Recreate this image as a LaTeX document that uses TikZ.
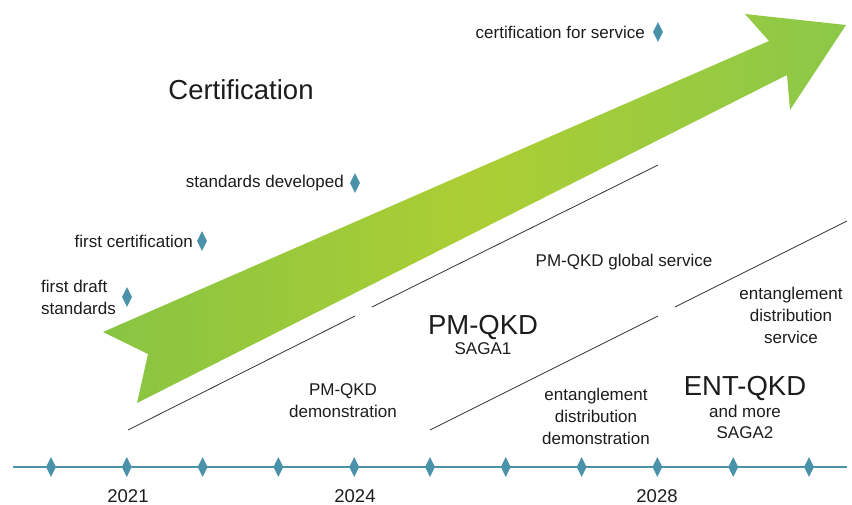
\documentclass[tikz,border=0pt]{standalone}
\usepackage{fontspec}
\setmainfont{Liberation Sans}
\usetikzlibrary{shapes.geometric}
\definecolor{tealm}{RGB}{74,146,170}
\definecolor{gA}{RGB}{136,196,66}
\definecolor{gB}{RGB}{172,206,52}
\definecolor{gC}{RGB}{140,200,72}
\definecolor{txt}{RGB}{28,28,28}
\begin{document}
\begin{tikzpicture}[x=1pt,y=-1pt,
  msdia/.style={shape=diamond, fill=tealm, draw=none, inner sep=0pt, minimum width=10pt, minimum height=20pt},
  lbl/.style={text=txt, inner sep=0pt, font=\fontsize{17}{21.6}\selectfont, align=center},
  big/.style={text=txt, inner sep=0pt, font=\fontsize{27.5}{30}\selectfont},
  yr/.style={text=txt, inner sep=0pt, font=\fontsize{18.5}{20}\selectfont},
  phase/.style={draw=black!80, line width=0.8pt}]
\useasboundingbox (0,0) rectangle (852,505);

% big green arrow
\shade[left color=gA, right color=gC, middle color=gB]
  (103,332) -- (769,41) -- (745,14) -- (846,25) -- (790,110) -- (787,75)
  -- (137,403) -- (148,354) -- cycle;

% timeline
\coordinate (tl0) at (13,467);
\coordinate (tl1) at (847,467);
\draw[tealm, line width=1.5pt] (tl0) -- (tl1);
\foreach \i in {0,...,10} {
  \node[msdia] (t\i) at ({51+75.8*\i},467) {};
}
\node[yr] (y2021) at (128,496) {2021};
\node[yr] (y2024) at (355,496) {2024};
\node[yr] (y2028) at (657,496) {2028};

% phase separator lines
\coordinate (a1) at (128,430); \coordinate (a2) at (355,316);
\coordinate (b1) at (372,307); \coordinate (b2) at (658,165);
\coordinate (c1) at (430,430); \coordinate (c2) at (658,316);
\coordinate (e1) at (675,307); \coordinate (e2) at (847,221);
\draw[phase] (a1) -- (a2);
\draw[phase] (b1) -- (b2);
\draw[phase] (c1) -- (c2);
\draw[phase] (e1) -- (e2);

% certification milestones
\node[big] (cert) at (241,90) {Certification};
\node[lbl, anchor=east] (cfs) at (645,32) {certification for service};
\node[msdia] (dcfs) at (658,32) {};
\node[lbl, anchor=east] (sd) at (344,183) {standards developed};
\node[msdia] (dsd) at (355,183) {};
\node[lbl, anchor=east] (fc) at (193,241) {first certification};
\node[msdia] (dfc) at (202,241) {};
\node[lbl, anchor=west, align=left] (fds) at (41,297.5) {first draft\\standards};
\node[msdia] (dfds) at (127,297) {};

% phases
\node[lbl] (pmd) at (343,400.5) {PM-QKD\\demonstration};
\node[big] (pm) at (483,327) {PM-QKD};
\node[lbl] (saga1) at (483,349) {SAGA1};
\node[lbl] (pmg) at (624,262) {PM-QKD global service};
\node[lbl] (edd) at (596,416.5) {entanglement\\distribution\\demonstration};
\node[lbl] (eds) at (791,315.5) {entanglement\\distribution\\service};
\node[big] (ent) at (745,388) {ENT-QKD};
\node[lbl] (saga2) at (745,422) {and more\\SAGA2};
\end{tikzpicture}
\end{document}
